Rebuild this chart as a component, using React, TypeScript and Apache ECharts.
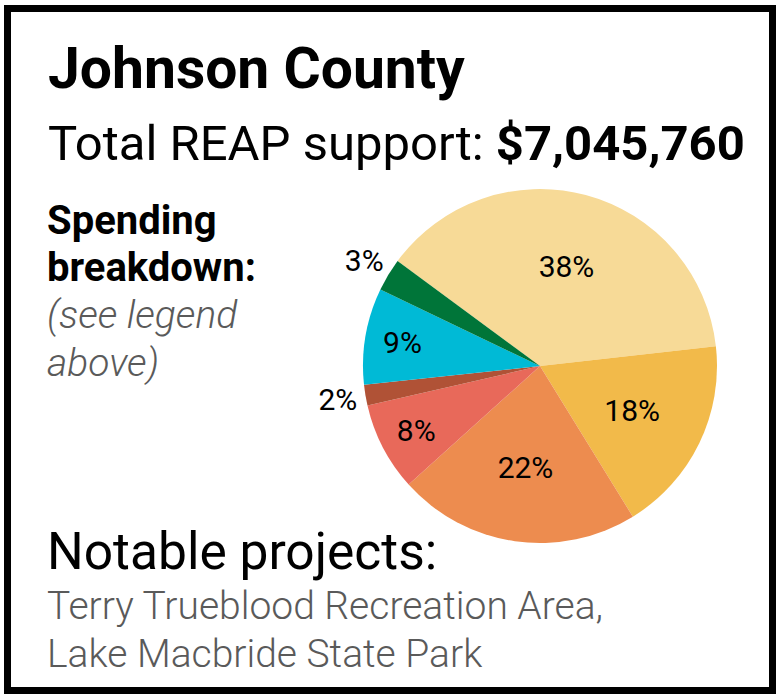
import React, { useEffect, useRef } from "react";
import * as echarts from "echarts";

const categories = ["A", "B", "C", "D", "E", "F", "G"];
const shares = [38.1, 18.0, 22.1, 8.1, 1.9, 8.8, 3.0];
const colors = ["#F7DA97", "#F2BA4A", "#ED8C4F", "#E8695A", "#B05236", "#00BAD6", "#007539"];
const labelRing = ["mid", "mid", "mid", "outer", "outside", "outer", "outside"];

const title = "Johnson County";
const totalLabel = "Total REAP support: ";
const totalValue = "$7,045,760";
const breakdownLines = ["Spending", "breakdown:"];
const noteLines = ["(see legend", "above)"];
const projectsTitle = "Notable projects:";
const projectLines = ["Terry Trueblood Recreation Area,", "Lake Macbride State Park"];

export default function App() {
  const ref = useRef<HTMLDivElement>(null);
  useEffect(() => {
    document.body.style.margin = "0";
    const chart = echarts.init(ref.current!, null, { renderer: "svg" });
    const font = "Roboto";
    const light = "'Roboto Light', Roboto";
    const cx = 540, cy = 366, R = 177;
    const base = {
      type: "pie",
      center: [cx, cy],
      startAngle: 143.6,
      clockwise: true,
      silent: true,
      animation: false,
      labelLine: { show: false },
      emphasis: { disabled: true },
    };
    const fmt = (p: any) => `${Math.round(p.percent)}%`;
    const mkLabeled = (ring: string, radius: number[]) => ({
      ...base,
      radius,
      itemStyle: { color: "rgba(0,0,0,0)" },
      label: {
        show: true,
        position: "inside",
        formatter: fmt,
        color: "#000",
        fontFamily: font,
        fontSize: 30,
      },
      data: categories.map((c, i) => ({
        name: c,
        value: shares[i],
        label: { show: labelRing[i] === ring },
      })),
    });
    const txt = (x: number, y: number, text: string, fontSpec: string, fill: string) => ({
      type: "text", x, y,
      style: { text, font: fontSpec, fill, verticalAlign: "top", align: "left" },
    });
    chart.setOption({
      animation: false,
      series: [
        {
          ...base,
          radius: [0, R],
          label: { show: false },
          data: categories.map((c, i) => ({ name: c, value: shares[i], itemStyle: { color: colors[i] } })),
        },
        mkLabeled("mid", [22, R]),
        mkLabeled("outer", [96, R]),
        mkLabeled("outside", [R, 227]),
      ],
      graphic: [
        { type: "rect", shape: { x: 7.5, y: 8.5, width: 765, height: 682 }, style: { fill: "none", stroke: "#000", lineWidth: 7 } },
        txt(48, 40, title, `bold 57px ${font}`, "#000"),
        {
          type: "text", x: 48, y: 119,
          style: {
            text: `{a|${totalLabel}}{b|${totalValue}}`,
            verticalAlign: "top",
            rich: {
              a: { fontFamily: font, fontSize: 49, color: "#000" },
              b: { fontFamily: font, fontSize: 49, fontWeight: "bold", color: "#000" },
            },
          },
        },
        ...breakdownLines.map((t, i) => txt(47, 200 + i * 47, t, `bold 40px ${font}`, "#000")),
        ...noteLines.map((t, i) => txt(47, 295 + i * 48, t, `italic 300 39px ${light}`, "#5a5a5a")),
        txt(47, 525, projectsTitle, `400 51.5px ${font}`, "#000"),
        ...projectLines.map((t, i) => txt(47, 586 + i * 48, t, `300 39px ${light}`, "#5a5a5a")),
      ],
    });
    return () => chart.dispose();
  }, []);
  return <div ref={ref} style={{ width: 782, height: 700 }} />;
}
